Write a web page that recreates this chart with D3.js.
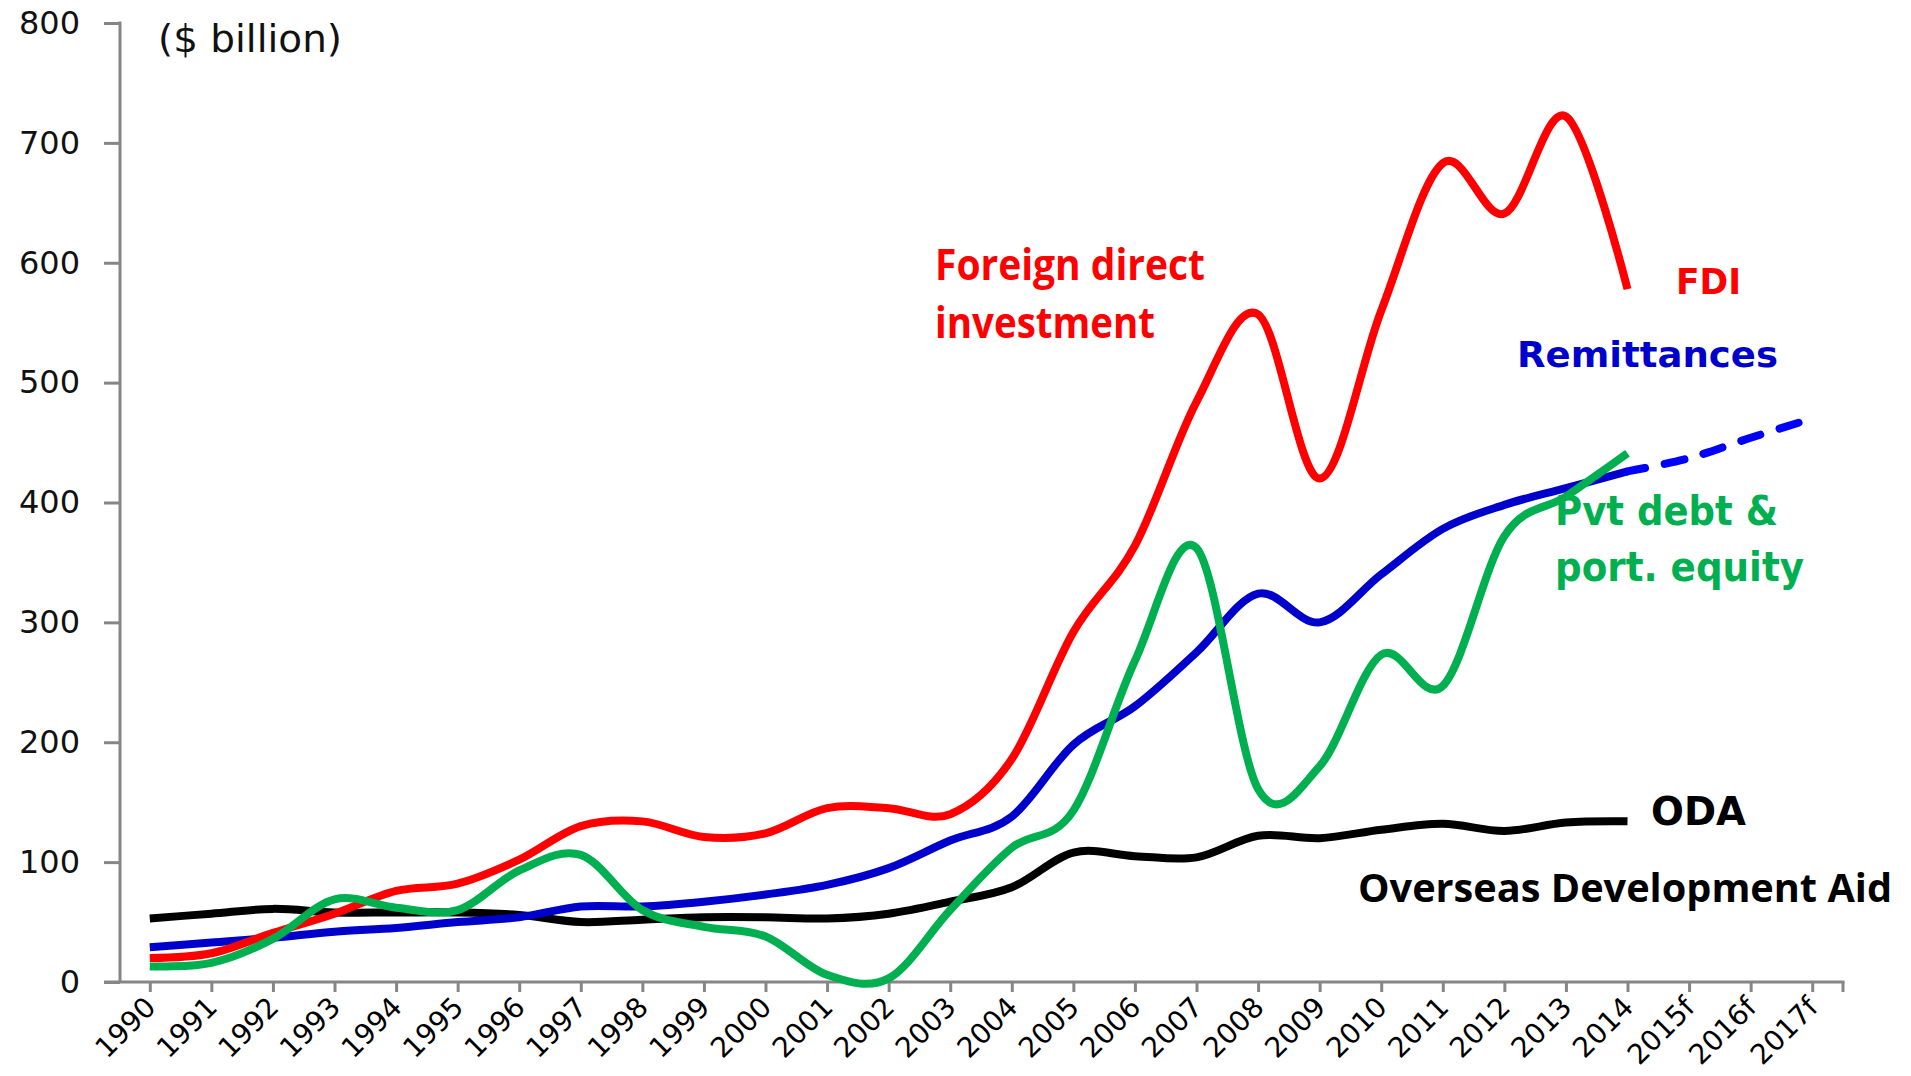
<!DOCTYPE html>
<html>
<head>
<meta charset="utf-8">
<script src="https://cdn.jsdelivr.net/npm/d3@7"></script>
<style>
  body { margin: 0; background: #fff; }
  svg { display: block; }
</style>
</head>
<body>
<div id="chart"></div>
<script>
var years = ['1990', '1991', '1992', '1993', '1994', '1995', '1996', '1997', '1998', '1999',
  '2000', '2001', '2002', '2003', '2004', '2005', '2006', '2007', '2008', '2009',
  '2010', '2011', '2012', '2013', '2014', '2015f', '2016f', '2017f'];

var yTicks = [0, 100, 200, 300, 400, 500, 600, 700, 800];

// $ billion, 1990-2014
var fdi = [20, 24, 41, 57, 76, 82, 102, 130, 134, 121, 124, 145, 145, 140, 186,
  292, 364, 484, 557, 420, 560, 683, 641, 722, 578];
var remittances = [29, 33, 37, 42, 45, 50, 54, 63, 63, 67, 73, 81, 95, 118, 138,
  198, 230, 275, 324, 300, 340, 378, 398, 412, 426];
// forecast, 2014-2017f
var remittancesForecast = [426, 437, 454, 470];
var pvtDebt = [13, 16, 36, 69, 62, 60, 93, 106, 60, 46, 38, 6, 3, 60, 112,
  143, 268, 362, 161, 180, 273, 247, 372, 405, 441];
var oda = [53, 57, 61, 58, 58, 58, 56, 50, 52, 54, 54, 53, 57, 67, 79,
  108, 105, 104, 122, 120, 127, 132, 126, 133, 134];

var width = 1911, height = 1076;

var svg = d3.select('#chart').append('svg')
  .attr('width', width)
  .attr('height', height);

var x = d3.scalePoint().domain(years).range([119, 1843]).padding(0.5);
var y = d3.scaleLinear().domain([0, 800]).range([982, 23]);

var axisColor = '#868686';

// y axis
var yAxis = svg.append('g')
  .attr('transform', 'translate(120,0)')
  .call(d3.axisLeft(y).tickValues(yTicks).tickSize(16).tickSizeOuter(0).tickPadding(24));
yAxis.select('.domain').remove();
yAxis.selectAll('.tick line').attr('stroke', axisColor).attr('stroke-width', 3);
yAxis.selectAll('.tick text')
  .attr('fill', '#111')
  .style('font-family', 'DejaVu Sans')
  .style('font-size', '32px');
svg.append('line')
  .attr('x1', 120).attr('x2', 120)
  .attr('y1', y(800) - 1.5).attr('y2', y(0))
  .attr('stroke', axisColor).attr('stroke-width', 3);

// x axis
var xAxis = svg.append('g')
  .attr('transform', 'translate(0,' + y(0) + ')')
  .call(d3.axisBottom(x).tickSize(10).tickSizeOuter(0));
xAxis.select('.domain').remove();
xAxis.selectAll('.tick line').attr('stroke', axisColor).attr('stroke-width', 3);
xAxis.selectAll('.tick text')
  .attr('x', 0).attr('y', 0).attr('dy', 0)
  .attr('transform', 'translate(7,27) rotate(-45)')
  .attr('text-anchor', 'end')
  .attr('fill', '#000')
  .style('font-family', 'DejaVu Sans')
  .style('font-size', '28px');
svg.append('line')
  .attr('x1', 104).attr('x2', x.range()[1] + 1.5)
  .attr('y1', y(0)).attr('y2', y(0))
  .attr('stroke', axisColor).attr('stroke-width', 3);
svg.append('line')
  .attr('x1', x.range()[1]).attr('x2', x.range()[1])
  .attr('y1', y(0)).attr('y2', y(0) + 10)
  .attr('stroke', axisColor).attr('stroke-width', 3);

// series
var line = d3.line()
  .x(function (d) { return x(d.year); })
  .y(function (d) { return y(d.value); })
  .curve(d3.curveCatmullRom.alpha(0));

function toPoints(values, startIndex) {
  return values.map(function (v, i) {
    return { year: years[startIndex + i], value: v };
  });
}

function drawSeries(values, startIndex, color, dash) {
  var path = svg.append('path')
    .datum(toPoints(values, startIndex))
    .attr('d', line)
    .attr('fill', 'none')
    .attr('stroke', color)
    .attr('stroke-width', 8)
    .attr('stroke-linecap', 'butt')
    .attr('stroke-linejoin', 'round');
  if (dash) {
    path.attr('stroke-dasharray', dash)
      .attr('stroke-dashoffset', 2)
      .attr('stroke-linecap', 'round');
  }
  return path;
}

drawSeries(oda, 0, '#000000');
drawSeries(remittances, 0, '#0000cc');
drawSeries(remittancesForecast, 24, '#0000ff', '20,20');
drawSeries(fdi, 0, '#ff0000');
drawSeries(pvtDebt, 0, '#00b050');

// labels
function label(text, lx, ly, opts) {
  var t = svg.append('text')
    .attr('x', lx)
    .attr('y', ly)
    .attr('fill', opts.color)
    .style('font-family', opts.font)
    .style('font-size', opts.size + 'px')
    .style('font-weight', opts.weight || 'bold')
    .text(text);
  if (opts.len) {
    t.attr('textLength', opts.len).attr('lengthAdjust', 'spacingAndGlyphs');
  }
  return t;
}

var calibriLike = '"Open Sans", "Noto Sans", sans-serif';
var tahomaLike = '"DejaVu Sans", Verdana, sans-serif';

label('($ billion)', 158, 52, { color: '#111', font: tahomaLike, size: 37, weight: 'normal', len: 184 });
label('Foreign direct', 935, 280, { color: '#ff0000', font: calibriLike, size: 43, len: 270 });
label('investment', 935, 338, { color: '#ff0000', font: calibriLike, size: 43, len: 220 });
label('FDI', 1676, 294, { color: '#ff0000', font: tahomaLike, size: 36, len: 65 });
label('Remittances', 1517, 367, { color: '#0000cc', font: tahomaLike, size: 35, len: 261 });
label('Pvt debt &', 1555, 525, { color: '#00b050', font: tahomaLike, size: 40, len: 223 });
label('port. equity', 1555, 581, { color: '#00b050', font: tahomaLike, size: 40, len: 249 });
label('ODA', 1651, 825, { color: '#000', font: tahomaLike, size: 39, len: 95 });
label('Overseas Development Aid', 1358, 902, { color: '#000', font: calibriLike, size: 40, len: 534 });
</script>
</body>
</html>
